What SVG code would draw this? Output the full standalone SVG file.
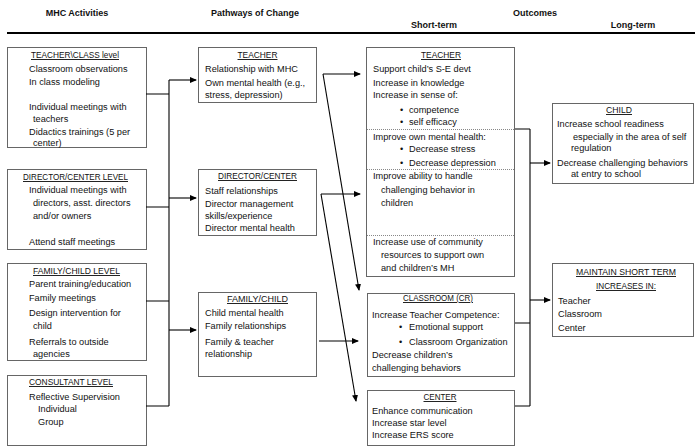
<svg xmlns="http://www.w3.org/2000/svg" width="695" height="446" viewBox="0 0 695 446">
<style>
text{font-family:"Liberation Sans",Arial,sans-serif;font-size:9.2px;fill:#111}
.h{font-weight:bold;font-size:9px;text-anchor:middle}
.t{text-anchor:middle;text-decoration:underline}
.box{fill:#fff;stroke:#666;stroke-width:1}
.sep{stroke:#888;stroke-width:1;stroke-dasharray:1,1}
.c{fill:none;stroke:#000;stroke-width:1.1}
.a{fill:none;stroke:#000;stroke-width:1.1;marker-end:url(#ah)}
</style>
<defs>
<marker id="ah" markerWidth="7" markerHeight="6" refX="6" refY="3" orient="auto" markerUnits="userSpaceOnUse">
<path d="M0,0 L7,3 L0,6 Z" fill="#000"/>
</marker>
</defs>
<rect width="695" height="446" fill="#fff"/>
<g id="header">
<text class="h" x="77" y="16">MHC Activities</text>
<text class="h" x="255" y="16">Pathways of Change</text>
<text class="h" x="535" y="16">Outcomes</text>
<text class="h" x="434" y="28">Short-term</text>
<text class="h" x="633" y="28">Long-term</text>
<line x1="7" y1="33" x2="695" y2="33" stroke="#000" stroke-width="2.2"/>
</g>
<g id="act-teacher">
<rect class="box" x="7.5" y="47.5" width="139" height="100"/>
<text class="t" x="75" y="58" textLength="88" lengthAdjust="spacingAndGlyphs">TEACHER\CLASS level</text>
<text x="29" y="72">Classroom observations</text>
<text x="29" y="85">In class modeling</text>
<text x="29" y="110">Individual meetings with</text>
<text x="33" y="122">teachers</text>
<text x="29" y="135">Didactics trainings (5 per</text>
<text x="33" y="146">center)</text>
</g>
<g id="act-director">
<rect class="box" x="7.5" y="169.5" width="139" height="80"/>
<text class="t" x="75.5" y="180" textLength="105" lengthAdjust="spacingAndGlyphs">DIRECTOR/CENTER LEVEL</text>
<text x="29" y="193">Individual meetings with</text>
<text x="33" y="206">directors, asst. directors</text>
<text x="33" y="219">and/or owners</text>
<text x="29" y="245">Attend staff meetings</text>
</g>
<g id="act-family">
<rect class="box" x="7.5" y="263.5" width="139" height="97"/>
<text class="t" x="76.5" y="274" textLength="87" lengthAdjust="spacingAndGlyphs">FAMILY/CHILD LEVEL</text>
<text x="29" y="287">Parent training/education</text>
<text x="29" y="301">Family meetings</text>
<text x="29" y="316">Design intervention for</text>
<text x="33" y="329">child</text>
<text x="29" y="345">Referrals to outside</text>
<text x="33" y="357">agencies</text>
</g>
<g id="act-consultant">
<rect class="box" x="7.5" y="375.5" width="139" height="70"/>
<text class="t" x="71" y="385" textLength="84" lengthAdjust="spacingAndGlyphs">CONSULTANT LEVEL</text>
<text x="29" y="400">Reflective Supervision</text>
<text x="38" y="412">Individual</text>
<text x="38" y="425">Group</text>
</g>
<g id="path-teacher">
<rect class="box" x="198.5" y="47.5" width="118" height="55"/>
<text class="t" x="257.5" y="58" textLength="40" lengthAdjust="spacingAndGlyphs">TEACHER</text>
<text x="205" y="72">Relationship with MHC</text>
<text x="205" y="86">Own mental health (e.g.,</text>
<text x="205" y="98">stress, depression)</text>
</g>
<g id="path-director">
<rect class="box" x="198.5" y="169.5" width="118" height="66"/>
<text class="t" x="257.5" y="179" textLength="79" lengthAdjust="spacingAndGlyphs">DIRECTOR/CENTER</text>
<text x="205" y="194">Staff relationships</text>
<text x="205" y="207">Director management</text>
<text x="205" y="219">skills/experience</text>
<text x="205" y="231">Director mental health</text>
</g>
<g id="path-family">
<rect class="box" x="198.5" y="292.5" width="118" height="84"/>
<text class="t" x="257.5" y="302" textLength="61" lengthAdjust="spacingAndGlyphs">FAMILY/CHILD</text>
<text x="205" y="316">Child mental health</text>
<text x="205" y="329">Family relationships</text>
<text x="205" y="345">Family &amp; teacher</text>
<text x="205" y="357">relationship</text>
</g>
<g id="out-teacher">
<rect class="box" x="366.5" y="47.5" width="148" height="229"/>
<line class="sep" x1="367" y1="129.5" x2="514" y2="129.5"/>
<line class="sep" x1="367" y1="169.5" x2="514" y2="169.5"/>
<line class="sep" x1="367" y1="235.5" x2="514" y2="235.5"/>
<text class="t" x="441" y="58" textLength="40" lengthAdjust="spacingAndGlyphs">TEACHER</text>
<text x="373" y="72">Support child’s S-E devt</text>
<text x="373" y="86">Increase in knowledge</text>
<text x="373" y="98">Increase in sense of:</text>
<text x="400" y="113">•</text><text x="409" y="113">competence</text>
<text x="400" y="125">•</text><text x="409" y="125">self efficacy</text>
<text x="373" y="140">Improve own mental health:</text>
<text x="400" y="152">•</text><text x="409" y="152">Decrease stress</text>
<text x="400" y="166">•</text><text x="409" y="166">Decrease depression</text>
<text x="373" y="179">Improve ability to handle</text>
<text x="381" y="193">challenging behavior in</text>
<text x="381" y="206">children</text>
<text x="373" y="245">Increase use of community</text>
<text x="381" y="258">resources to support own</text>
<text x="381" y="271">and children’s MH</text>
</g>
<g id="out-classroom">
<rect class="box" x="367.5" y="293.5" width="147" height="83"/>
<text class="t" x="438" y="301" textLength="70" lengthAdjust="spacingAndGlyphs">CLASSROOM (CR)</text>
<text x="372" y="318">Increase Teacher Competence:</text>
<text x="399" y="330">•</text><text x="409" y="330">Emotional support</text>
<text x="399" y="345">•</text><text x="409" y="345">Classroom Organization</text>
<text x="372" y="358">Decrease children’s</text>
<text x="372" y="371">challenging behaviors</text>
</g>
<g id="out-center">
<rect class="box" x="367.5" y="390.5" width="147" height="55"/>
<text class="t" x="440" y="400" textLength="33" lengthAdjust="spacingAndGlyphs">CENTER</text>
<text x="372" y="414">Enhance communication</text>
<text x="372" y="426">Increase star level</text>
<text x="372" y="438">Increase ERS score</text>
</g>
<g id="lt-child">
<rect class="box" x="552.5" y="103.5" width="141" height="80"/>
<text class="t" x="619" y="113" textLength="26" lengthAdjust="spacingAndGlyphs">CHILD</text>
<text x="557" y="127">Increase school readiness</text>
<text x="573" y="140">especially in the area of self</text>
<text x="571" y="151">regulation</text>
<text x="557" y="166">Decrease challenging behaviors</text>
<text x="571" y="177">at entry to school</text>
</g>
<g id="lt-maintain">
<rect class="box" x="552.5" y="263.5" width="141" height="73"/>
<text class="t" x="626" y="275" textLength="100" lengthAdjust="spacingAndGlyphs">MAINTAIN SHORT TERM</text>
<text class="t" x="626" y="289" textLength="60" lengthAdjust="spacingAndGlyphs">INCREASES IN:</text>
<text x="558" y="304">Teacher</text>
<text x="558" y="317">Classroom</text>
<text x="558" y="331">Center</text>
</g>
<g id="connectors">
<path class="c" d="M146,94 H169 M146,207 H169 M146,301 H169 M146,406 H169 M169,80 V406"/>
<path class="a" d="M169,80 H196"/>
<path class="a" d="M169,198 H196"/>
<path class="a" d="M169,330 H196"/>
<path class="a" d="M323,74 H360"/>
<path class="a" d="M323,74 L359,290"/>
<path class="a" d="M321,194 H360"/>
<path class="a" d="M321,194 L356,401"/>
<path class="a" d="M319,341 H358"/>
<path class="c" d="M515,129 H530 M515,323 H530 M515,406 H530 M530,129 V406"/>
<path class="a" d="M530,163 H550"/>
<path class="a" d="M530,300 H550"/>
</g>
</svg>
